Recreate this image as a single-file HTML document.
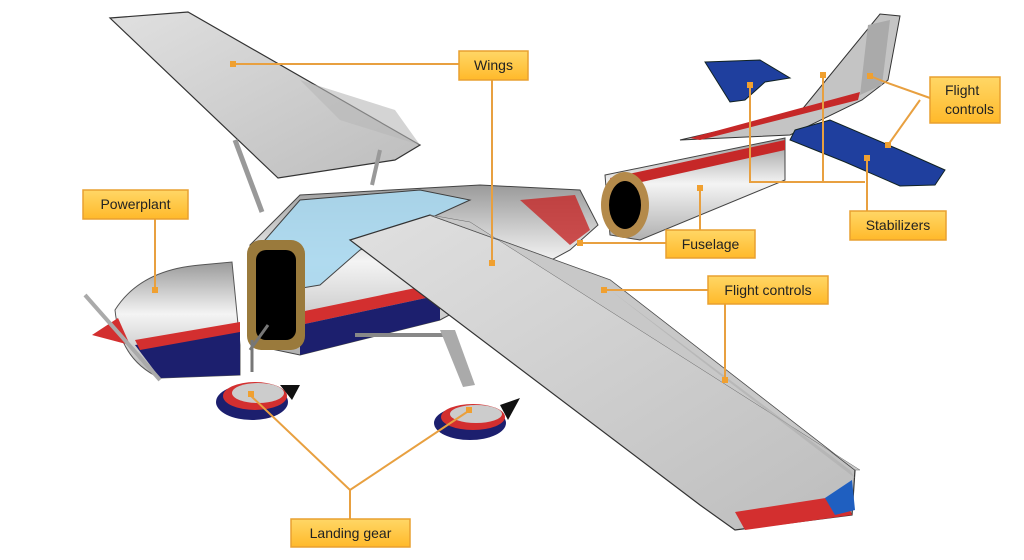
<!DOCTYPE html>
<html><head><meta charset="utf-8"><style>
html,body{margin:0;padding:0;background:#fff;width:1024px;height:560px;overflow:hidden}
svg{display:block}
.lb{fill:url(#lab);stroke:#e8a030;stroke-width:1.5}
.t{font-family:"Liberation Sans",sans-serif;font-size:14px;fill:#222}
.c{stroke:#e8a040;stroke-width:2;fill:none}
.d{fill:#f0a030}
</style></head><body>
<svg width="1024" height="560" viewBox="0 0 1024 560">
<defs>
<linearGradient id="lab" x1="0" y1="0" x2="0" y2="1"><stop offset="0" stop-color="#ffd766"/><stop offset="1" stop-color="#ffb92a"/></linearGradient>
<linearGradient id="met" x1="0" y1="0" x2="0" y2="1"><stop offset="0" stop-color="#9a9a9a"/><stop offset=".45" stop-color="#f4f4f4"/><stop offset="1" stop-color="#b0b0b0"/></linearGradient>
<linearGradient id="wing" x1="0" y1="0" x2="1" y2="1"><stop offset="0" stop-color="#e0e0e0"/><stop offset="1" stop-color="#bdbdbd"/></linearGradient>
</defs>
<!-- left wing -->
<polygon points="110,18 188,12 420,145 395,160 278,178" fill="url(#wing)" stroke="#333" stroke-width="1.2"/>
<polygon points="300,80 395,110 420,145 340,120" fill="#b8b8b8" opacity=".6"/>
<line x1="235" y1="140" x2="262" y2="212" stroke="#999" stroke-width="5"/>
<line x1="380" y1="150" x2="372" y2="185" stroke="#999" stroke-width="4"/>
<!-- vertical fin -->
<polygon points="680,140 800,112 880,14 900,16 888,80 862,100 790,135" fill="#c4c4c4" stroke="#333"/>
<polygon points="690,138 860,92 858,100 700,140" fill="#c62828"/>
<polygon points="868,25 890,20 882,85 860,95" fill="#aaa"/>
<!-- stabilizers -->
<polygon points="705,62 760,60 790,78 765,82 745,100 730,102" fill="#1f3f9e" stroke="#122" />
<polygon points="795,130 830,120 900,150 945,170 935,185 900,186 845,162 790,140" fill="#1f3f9e" stroke="#122"/>
<!-- tail cone -->
<polygon points="605,175 785,138 785,180 640,240 610,235" fill="url(#met)" stroke="#444"/>
<polygon points="610,178 785,140 785,150 615,188" fill="#c62828"/>
<ellipse cx="625" cy="205" rx="24" ry="33" fill="#b48a4a"/>
<ellipse cx="625" cy="205" rx="16" ry="24" fill="#000"/>
<!-- fuselage -->
<polygon points="250,245 300,195 480,185 580,190 598,225 570,250 440,320 300,355 252,345" fill="url(#met)" stroke="#444"/>
<polygon points="265,240 300,200 420,190 470,200 360,250 320,285 290,290" fill="#a9d8ef" stroke="#333" opacity=".9"/>
<polygon points="520,200 575,195 590,230 570,245" fill="#c62828" opacity=".8"/>
<polygon points="300,312 430,285 440,295 300,325" fill="#d32f2f"/>
<polygon points="300,325 440,295 440,320 300,355" fill="#1c1f6e"/>
<rect x="247" y="240" width="58" height="110" rx="14" fill="#9a7a3c"/>
<rect x="256" y="250" width="40" height="90" rx="10" fill="#000"/>
<line x1="355" y1="335" x2="455" y2="335" stroke="#888" stroke-width="4"/>
<polygon points="440,330 455,330 475,385 463,387" fill="#aaa"/>
<!-- cowling -->
<path d="M115,310 Q140,270 200,265 L232,262 L240,345 L240,375 L160,378 Q120,360 115,310Z" fill="url(#met)" stroke="#555"/>
<path d="M135,345 L240,330 L240,375 L160,378Z" fill="#1c1f6e"/>
<path d="M135,340 L240,322 L240,332 L140,350Z" fill="#d32f2f"/>
<polygon points="92,335 118,318 130,345" fill="#d32f2f"/>
<line x1="85" y1="295" x2="160" y2="380" stroke="#aaa" stroke-width="4"/>
<line x1="250" y1="350" x2="268" y2="325" stroke="#777" stroke-width="3"/>
<line x1="252" y1="340" x2="252" y2="372" stroke="#777" stroke-width="3"/>
<!-- wheel pants -->
<ellipse cx="252" cy="402" rx="36" ry="18" fill="#1c1f6e"/>
<ellipse cx="255" cy="396" rx="32" ry="14" fill="#d32f2f"/>
<ellipse cx="258" cy="393" rx="26" ry="10" fill="#ccc"/>
<polygon points="280,385 300,385 292,400" fill="#111"/>
<ellipse cx="470" cy="423" rx="36" ry="17" fill="#1c1f6e"/>
<ellipse cx="473" cy="417" rx="32" ry="13" fill="#d32f2f"/>
<ellipse cx="476" cy="414" rx="26" ry="9" fill="#ccc"/>
<polygon points="500,405 520,398 508,420" fill="#111"/>
<!-- main wing -->
<polygon points="350,240 430,215 610,280 855,470 852,515 735,530 700,505" fill="url(#wing)" stroke="#333" stroke-width="1.2"/>
<polygon points="430,215 470,222 860,470 855,470 610,280" fill="#c8c8c8" stroke="#666" stroke-width=".5"/>
<polygon points="610,290 850,470 855,478 720,375" fill="#aeaeae" opacity=".6"/>
<path d="M735,512 L845,495 L852,515 L745,530 Z" fill="#d32f2f"/>
<path d="M825,498 L852,480 L855,510 L835,515Z" fill="#1f5fc0"/>
<!-- connectors -->
<polyline class="c" points="233,64 459,64"/>
<polyline class="c" points="492,80 492,263"/>
<polyline class="c" points="155,219 155,290"/>
<polyline class="c" points="580,243 666,243"/>
<polyline class="c" points="700,188 700,230"/>
<polyline class="c" points="604,290 708,290"/>
<polyline class="c" points="725,290 725,380"/>
<polyline class="c" points="750,85 750,182 865,182"/>
<polyline class="c" points="823,75 823,182"/>
<polyline class="c" points="867,158 867,211"/>
<polyline class="c" points="870,76 885,82 930,98"/>
<polyline class="c" points="888,145 920,100"/>
<polyline class="c" points="250,395 350,490 470,410"/>
<polyline class="c" points="350,490 350,519"/>
<g class="d">
<rect x="230" y="61" width="6" height="6"/><rect x="489" y="260" width="6" height="6"/><rect x="152" y="287" width="6" height="6"/>
<rect x="577" y="240" width="6" height="6"/><rect x="697" y="185" width="6" height="6"/><rect x="601" y="287" width="6" height="6"/>
<rect x="722" y="377" width="6" height="6"/><rect x="747" y="82" width="6" height="6"/><rect x="820" y="72" width="6" height="6"/>
<rect x="864" y="155" width="6" height="6"/><rect x="867" y="73" width="6" height="6"/><rect x="885" y="142" width="6" height="6"/>
<rect x="248" y="391" width="6" height="6"/><rect x="466" y="407" width="6" height="6"/>
</g>
<!-- labels -->
<rect class="lb" x="459" y="51" width="69" height="29"/><text class="t" x="493.5" y="70" text-anchor="middle">Wings</text>
<rect class="lb" x="83" y="190" width="105" height="29"/><text class="t" x="135.5" y="209" text-anchor="middle">Powerplant</text>
<rect class="lb" x="666" y="230" width="89" height="28"/><text class="t" x="710.5" y="249" text-anchor="middle">Fuselage</text>
<rect class="lb" x="708" y="276" width="120" height="28"/><text class="t" x="768" y="295" text-anchor="middle">Flight controls</text>
<rect class="lb" x="930" y="77" width="70" height="46"/><text class="t" x="945" y="95">Flight</text><text class="t" x="945" y="114">controls</text>
<rect class="lb" x="850" y="211" width="96" height="29"/><text class="t" x="898" y="230" text-anchor="middle">Stabilizers</text>
<rect class="lb" x="291" y="519" width="119" height="28"/><text class="t" x="350.5" y="538" text-anchor="middle">Landing gear</text>
</svg>
</body></html>
